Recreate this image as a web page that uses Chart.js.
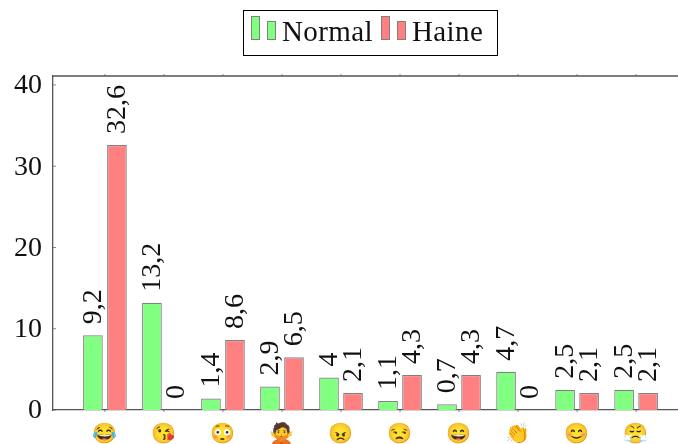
<!DOCTYPE html>
<html>
<head>
<meta charset="utf-8">
<title>Normal / Haine</title>
<script src="https://cdn.jsdelivr.net/npm/chart.js@4"></script>
<style>
  html, body { margin: 0; padding: 0; background: #fff; }
  #wrap { position: relative; width: 678px; height: 444px; overflow: hidden; }
  #legend {
    position: absolute; left: 243px; top: 10px; width: 255px; height: 46px;
    border: 1.2px solid #000; box-sizing: border-box;
    font: 29px "Liberation Serif", serif; color: #111;
  }
  #legend span { position: absolute; }
  .swatch { border: 1.3px solid #808080; box-sizing: border-box; }
</style>
</head>
<body>
<div id="wrap">
  <canvas id="chart" width="678" height="444"></canvas>
  <div id="legend"></div>
</div>
<script>
// Values
const categories = ['😂', '😘', '😳', '🙅', '😠', '😒', '😄', '👏', '😊', '😤'];
const normalValues = [9.2, 13.2, 1.4, 2.9, 4, 1.1, 0.7, 4.7, 2.5, 2.5];
const haineValues = [32.6, 0, 8.6, 6.5, 2.1, 4.3, 4.3, 0, 2.1, 2.1];
const yTicks = [0, 10, 20, 30, 40];

const GREEN = '#80ff80';
const RED = '#ff8080';
const EDGE = '#808080';
const AXIS = '#555555';
const SERIF = '"Liberation Serif", serif';

function toPoints(values) {
    return values.map((v, i) => ({ x: i + 1, y: v }));
}

// Rotated value labels above every bar
const valueLabels = {
    id: 'valueLabels',
    afterDatasetsDraw(chart) {
        const ctx = chart.ctx;
        ctx.save();
        ctx.font = '28px ' + SERIF;
        ctx.fillStyle = '#111';
        ctx.textAlign = 'left';
        ctx.textBaseline = 'alphabetic';
        chart.data.datasets.forEach((ds, d) => {
            chart.getDatasetMeta(d).data.forEach((bar, i) => {
                ctx.save();
                ctx.translate(bar.x + 8, bar.y - 11);
                ctx.rotate(-Math.PI / 2);
                ctx.fillText(String(ds.data[i].y).replace('.', ','), 0, 0);
                ctx.restore();
            });
        });
        ctx.restore();
    }
};

// Top axis line, small ticks on the box, y tick labels
const boxTicks = {
    id: 'boxTicks',
    afterDraw(chart) {
        const { ctx, chartArea: area, scales } = chart;
        ctx.save();
        ctx.strokeStyle = AXIS;
        ctx.lineWidth = 1.3;
        ctx.beginPath();
        ctx.moveTo(area.left, area.top);
        ctx.lineTo(area.right, area.top);
        ctx.stroke();
        ctx.lineWidth = 0.7;
        ctx.beginPath();
        scales.x.ticks.forEach(t => {
            const px = scales.x.getPixelForValue(t.value);
            ctx.moveTo(px, area.top);
            ctx.lineTo(px, area.top - 2);
            ctx.moveTo(px, area.bottom);
            ctx.lineTo(px, area.bottom + 2);
        });
        scales.y.ticks.forEach(t => {
            const py = scales.y.getPixelForValue(t.value);
            ctx.moveTo(area.left, py);
            ctx.lineTo(area.left + 3, py);
        });
        ctx.stroke();
        ctx.font = '28px ' + SERIF;
        ctx.fillStyle = '#111';
        ctx.textAlign = 'right';
        ctx.textBaseline = 'middle';
        scales.y.ticks.forEach(t => {
            ctx.fillText(String(t.value), area.left - 11, scales.y.getPixelForValue(t.value) + 1);
        });
        ctx.restore();
    }
};

new Chart(document.getElementById('chart'), {
    type: 'bar',
    data: {
        datasets: [
            { label: 'Normal', data: toPoints(normalValues), backgroundColor: GREEN, borderColor: EDGE, borderWidth: 1.2 },
            { label: 'Haine', data: toPoints(haineValues), backgroundColor: RED, borderColor: EDGE, borderWidth: 1.2 }
        ]
    },
    options: {
        responsive: false,
        animation: false,
        devicePixelRatio: 1,
        categoryPercentage: 0.8136,
        barPercentage: 0.82,
        layout: { padding: { top: 76, right: 0, left: 0, bottom: 0 } },
        plugins: { legend: { display: false }, tooltip: { enabled: false }, title: { display: false } },
        scales: {
            x: {
                type: 'linear',
                offset: false,
                min: 0.12,
                max: 10.71,
                grid: { display: false },
                border: { color: AXIS, width: 1.3 },
                afterBuildTicks(scale) {
                    scale.ticks = categories.map((c, i) => ({ value: i + 1 }));
                },
                afterFit(scale) { scale.height = 34; },
                ticks: {
                    autoSkip: false,
                    maxRotation: 0,
                    minRotation: 0,
                    padding: 4,
                    color: '#000',
                    font: { size: 20, family: '"Noto Color Emoji", "Noto Sans", sans-serif' },
                    callback: value => categories[value - 1]
                }
            },
            y: {
                min: 0,
                max: 41.1,
                grid: { display: false },
                border: { color: AXIS, width: 1.3 },
                afterBuildTicks(scale) {
                    scale.ticks = yTicks.map(v => ({ value: v }));
                },
                afterFit(scale) { scale.width = 53; },
                ticks: { display: false }
            }
        }
    },
    plugins: [valueLabels, boxTicks]
});

// pgfplots-style legend: two small bars per entry
const legend = document.getElementById('legend');
function addEntry(name, color, left, textLeft) {
    [[left, 24], [left + 16, 19]].forEach(([x, h], n) => {
        const s = document.createElement('span');
        s.className = 'swatch';
        s.style.cssText = `left:${x}px;top:${n ? 10 : 5}px;width:9px;height:${h}px;background:${color}`;
        legend.appendChild(s);
    });
    const t = document.createElement('span');
    t.textContent = name;
    t.style.left = textLeft + 'px';
    t.style.top = '4px';
    t.style.letterSpacing = '0.4px';
    legend.appendChild(t);
}
addEntry('Normal', GREEN, 7, 38);
addEntry('Haine', RED, 137, 168);
</script>
</body>
</html>
